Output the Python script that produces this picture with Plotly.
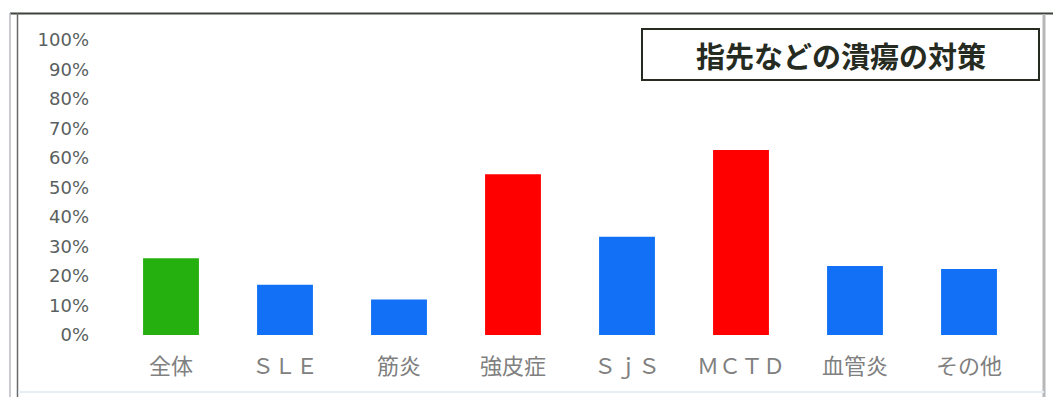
import plotly.graph_objects as go

categories = ["全体", "ＳＬＥ", "筋炎", "強皮症", "ＳｊＳ", "ＭＣＴＤ", "血管炎", "その他"]
values = [0.26, 0.17, 0.12, 0.545, 0.333, 0.627, 0.234, 0.224]
bar_colors = ["#25b00f", "#1170f5", "#1170f5", "#ff0000", "#1170f5", "#ff0000", "#1170f5", "#1170f5"]
title_text = "指先などの潰瘍の対策"

W, H = 1053, 397
L, R, T, B = 114, 27, 40, 62

def px(x):
    return (x - L) / (W - L - R)

def py(y):
    return (H - B - y) / (H - T - B)

fig = go.Figure(go.Bar(
    x=categories, y=values, marker_color=bar_colors, marker_line_width=0,
    width=0.49,
))

shapes = [
    # outer frame
    dict(type="line", xref="paper", yref="paper", x0=px(10), x1=px(1053), y0=py(13.5), y1=py(13.5),
         line=dict(color="#3d423d", width=2)),
    dict(type="line", xref="paper", yref="paper", x0=px(10), x1=px(10), y0=py(13), y1=py(397),
         line=dict(color="#b8b8c0", width=1.5)),
    dict(type="line", xref="paper", yref="paper", x0=px(17.5), x1=px(17.5), y0=py(13), y1=py(397),
         line=dict(color="#6a6a6a", width=1.5)),
    dict(type="line", xref="paper", yref="paper", x0=px(1044), x1=px(1044), y0=py(14), y1=py(397),
         line=dict(color="#b8b8b8", width=3)),
    dict(type="line", xref="paper", yref="paper", x0=px(18), x1=px(1044), y0=py(392), y1=py(392),
         line=dict(color="#e6eef6", width=2)),
    # title box
    dict(type="rect", xref="paper", yref="paper", x0=px(642), x1=px(1039), y0=py(29), y1=py(80),
         line=dict(color="#262b22", width=2), fillcolor="white"),
]

fig.update_layout(
    width=W, height=H,
    margin=dict(l=L, r=R, t=T, b=B),
    paper_bgcolor="white", plot_bgcolor="white",
    showlegend=False,
    bargap=0.51,
    shapes=shapes,
    annotations=[dict(
        text=f"<b>{title_text}</b>", xref="paper", yref="paper",
        x=px(841), y=py(55), xanchor="center", yanchor="middle", showarrow=False,
        font=dict(family="Noto Sans CJK JP", size=29, color="#262b22"),
    )],
    yaxis=dict(
        range=[0, 1], dtick=0.1, tickformat=".0%", showgrid=False, zeroline=False,
        showline=False, ticks="", ticklabelstandoff=24,
        tickfont=dict(family="DejaVu Sans", size=18, color="#5a5f60"),
    ),
    xaxis=dict(
        showgrid=False, showline=False, ticks="", ticklabelstandoff=16,
        tickfont=dict(family="Noto Sans CJK JP", size=22, color="#808080"),
    ),
)

fig.write_html("out.html", config={"displayModeBar": False},
               post_script="document.body.style.margin='0';")
